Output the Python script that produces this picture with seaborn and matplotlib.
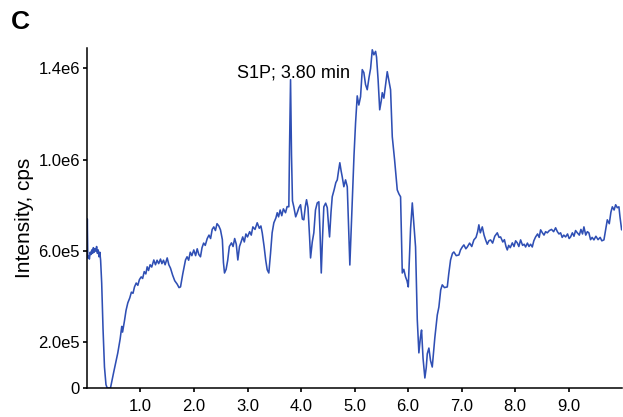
import numpy as np
import pandas as pd
import matplotlib
matplotlib.use("Agg")
import matplotlib.pyplot as plt
import seaborn as sns

# Retention time (min)
time_min = [
    0.000, 0.006, 0.016, 0.030, 0.045, 0.060, 0.075, 0.090, 0.105, 0.120, 0.135, 0.150, 0.165, 0.180, 0.195,
    0.210, 0.225, 0.240, 0.255, 0.275, 0.300, 0.327, 0.355, 0.378, 0.439, 0.500, 0.576, 0.620, 0.650, 0.665,
    0.701, 0.730, 0.763, 0.800, 0.830, 0.860, 0.888, 0.920, 0.950, 0.980, 1.013, 1.040, 1.070, 1.100, 1.125,
    1.150, 1.180, 1.210, 1.249, 1.280, 1.310, 1.340, 1.374, 1.400, 1.430, 1.460, 1.499, 1.530, 1.561, 1.600,
    1.640, 1.686, 1.720, 1.748, 1.790, 1.841, 1.870, 1.900, 1.930, 1.960, 1.996, 2.030, 2.060, 2.090, 2.121,
    2.150, 2.180, 2.210, 2.247, 2.280, 2.310, 2.340, 2.370, 2.400, 2.430, 2.464, 2.495, 2.530, 2.550, 2.570,
    2.600, 2.630, 2.660, 2.700, 2.730, 2.760, 2.790, 2.819, 2.850, 2.880, 2.910, 2.940, 2.970, 3.000, 3.040,
    3.070, 3.100, 3.140, 3.181, 3.220, 3.250, 3.275, 3.310, 3.340, 3.368, 3.398, 3.430, 3.460, 3.492, 3.530,
    3.555, 3.580, 3.610, 3.640, 3.670, 3.710, 3.740, 3.772, 3.785, 3.804, 3.822, 3.840, 3.865, 3.900, 3.929,
    3.960, 3.991, 4.025, 4.052, 4.080, 4.103, 4.130, 4.160, 4.178, 4.210, 4.239, 4.270, 4.303, 4.333, 4.355,
    4.378, 4.400, 4.426, 4.460, 4.490, 4.515, 4.533, 4.560, 4.583, 4.620, 4.650, 4.677, 4.700, 4.725, 4.750,
    4.770, 4.800, 4.832, 4.864, 4.890, 4.912, 4.935, 4.957, 4.990, 5.019, 5.050, 5.080, 5.112, 5.144, 5.174,
    5.205, 5.237, 5.270, 5.300, 5.331, 5.361, 5.393, 5.411, 5.440, 5.470, 5.500, 5.518, 5.548, 5.580, 5.611,
    5.640, 5.673, 5.705, 5.748, 5.798, 5.830, 5.860, 5.892, 5.920, 5.953, 5.980, 6.004, 6.047, 6.079, 6.108,
    6.140, 6.172, 6.202, 6.230, 6.252, 6.280, 6.314, 6.340, 6.359, 6.389, 6.420, 6.452, 6.500, 6.546, 6.576,
    6.610, 6.639, 6.680, 6.733, 6.760, 6.794, 6.830, 6.856, 6.900, 6.950, 6.980, 7.013, 7.043, 7.080, 7.107,
    7.150, 7.190, 7.230, 7.270, 7.300, 7.323, 7.350, 7.387, 7.420, 7.449, 7.480, 7.510, 7.542, 7.580, 7.620,
    7.667, 7.700, 7.729, 7.770, 7.800, 7.830, 7.854, 7.880, 7.910, 7.948, 7.980, 8.010, 8.041, 8.070, 8.103,
    8.140, 8.170, 8.196, 8.230, 8.260, 8.290, 8.321, 8.350, 8.383, 8.420, 8.450, 8.477, 8.510, 8.540, 8.570,
    8.602, 8.640, 8.680, 8.720, 8.757, 8.790, 8.820, 8.850, 8.880, 8.910, 8.944, 8.980, 9.010, 9.037, 9.070,
    9.100, 9.130, 9.163, 9.200, 9.230, 9.260, 9.286, 9.320, 9.350, 9.379, 9.410, 9.440, 9.473, 9.510, 9.550,
    9.590, 9.620, 9.660, 9.690, 9.723, 9.760, 9.790, 9.817, 9.850, 9.879, 9.910, 9.940, 9.960, 9.991,
]

# Intensity in units of 1e5 cps
intensity_e5 = [
    5.85, 7.41, 5.70, 5.80, 5.65, 5.95, 5.85, 6.05, 5.90, 6.15, 5.95, 6.10, 6.00, 6.20, 5.90,
    6.05, 5.75, 5.95, 5.60, 4.60, 2.60, 0.92, 0.15, 0.00, 0.00, 0.70, 1.54, 2.15, 2.70, 2.45,
    2.95, 3.40, 3.73, 3.95, 4.20, 4.15, 4.43, 4.60, 4.50, 4.75, 4.87, 4.80, 5.10, 5.00, 5.31,
    5.15, 5.40, 5.30, 5.61, 5.40, 5.60, 5.45, 5.65, 5.45, 5.60, 5.40, 5.70, 5.40, 5.25, 4.95,
    4.70, 4.55, 4.40, 4.43, 5.00, 5.61, 5.75, 5.60, 5.95, 5.80, 6.05, 5.80, 6.10, 5.85, 5.75,
    6.15, 6.35, 6.25, 6.55, 6.70, 6.55, 6.95, 7.06, 6.90, 7.20, 7.10, 6.93, 6.50, 5.50, 5.04,
    5.20, 5.60, 6.20, 6.36, 6.20, 6.55, 6.30, 5.61, 6.20, 6.40, 6.62, 6.40, 6.75, 6.62, 6.85,
    6.70, 7.06, 6.95, 7.24, 7.00, 7.10, 6.80, 6.20, 5.60, 5.18, 5.04, 5.90, 6.80, 7.24, 7.45,
    7.68, 7.50, 7.80, 7.55, 7.85, 7.68, 7.95, 7.94, 10.50, 13.51, 10.20, 8.20, 7.94, 7.50, 7.68,
    7.90, 8.03, 7.40, 7.37, 7.95, 8.25, 7.90, 6.60, 5.70, 6.40, 6.80, 7.80, 8.11, 8.16, 6.80,
    5.04, 6.50, 7.94, 8.10, 7.90, 7.10, 6.62, 7.70, 8.38, 8.70, 9.00, 9.12, 9.50, 9.87, 9.50,
    9.25, 8.82, 9.12, 8.82, 7.00, 5.39, 6.80, 8.25, 10.20, 11.62, 12.80, 12.40, 12.76, 13.95, 13.82,
    13.30, 13.07, 13.60, 14.00, 14.82, 14.60, 14.75, 14.50, 13.51, 12.19, 12.60, 12.94, 12.70, 13.30, 13.86,
    13.50, 13.07, 11.01, 10.00, 8.68, 8.50, 8.38, 5.04, 5.20, 4.87, 4.70, 4.43, 7.00, 8.11, 7.20,
    6.18, 3.00, 1.54, 2.20, 2.54, 1.30, 0.44, 0.90, 1.50, 1.75, 1.20, 0.92, 2.20, 3.20, 3.55,
    4.30, 4.52, 4.40, 4.43, 5.00, 5.61, 5.90, 5.96, 5.80, 5.83, 6.05, 6.18, 6.27, 6.10, 6.18,
    6.35, 6.20, 6.49, 6.60, 6.85, 7.15, 6.80, 7.06, 6.70, 6.49, 6.30, 6.45, 6.49, 6.35, 6.65,
    6.80, 6.60, 6.62, 6.40, 6.50, 6.20, 6.05, 6.25, 6.15, 6.36, 6.20, 6.45, 6.36, 6.20, 6.49,
    6.25, 6.30, 6.18, 6.35, 6.20, 6.30, 6.18, 6.45, 6.62, 6.75, 6.60, 6.93, 6.80, 6.70, 6.85,
    6.80, 6.90, 6.95, 6.85, 7.02, 6.85, 6.75, 6.80, 6.60, 6.70, 6.62, 6.75, 6.55, 6.62, 6.80,
    6.65, 6.90, 6.80, 6.70, 6.95, 6.75, 7.06, 6.70, 6.85, 6.80, 6.50, 6.60, 6.49, 6.65, 6.50,
    6.60, 6.45, 6.49, 6.90, 7.37, 7.20, 7.70, 7.94, 7.80, 8.03, 7.90, 7.94, 7.50, 6.93,
]

x_ticks = [1.0, 2.0, 3.0, 4.0, 5.0, 6.0, 7.0, 8.0, 9.0]
x_tick_labels = ["1.0", "2.0", "3.0", "4.0", "5.0", "6.0", "7.0", "8.0", "9.0"]
y_ticks = [0, 2.0e5, 6.0e5, 1.0e6, 1.4e6]
y_tick_labels = ["0", "2.0e5", "6.0e5", "1.0e6", "1.4e6"]

peak_label = "S1P; 3.80 min"
peak_time = 3.80

df = pd.DataFrame({"time": time_min, "intensity": np.array(intensity_e5) * 1e5})

sns.set_style("ticks")
plt.rcParams["font.family"] = ["Liberation Sans", "DejaVu Sans"]
plt.rcParams["text.color"] = "black"
plt.rcParams["xtick.color"] = "black"
plt.rcParams["ytick.color"] = "black"
plt.rcParams["axes.labelcolor"] = "black"

fig = plt.figure(figsize=(6.23, 4.17), dpi=100)
ax = fig.add_axes([0.1396, 0.0695, 0.8590, 0.8155])

sns.lineplot(data=df, x="time", y="intensity", ax=ax, color="#2f4fb4",
             linewidth=1.15, sort=False, estimator=None)

ax.set_xlim(0, 10)
ax.set_ylim(0, 1.49e6)
ax.set_xticks(x_ticks)
ax.set_xticklabels(x_tick_labels, fontsize=12)
ax.set_yticks(y_ticks)
ax.set_yticklabels(y_tick_labels, fontsize=12)
ax.tick_params(axis="both", length=3, width=1.2, colors="black")
ax.tick_params(axis="x", pad=5)
ax.tick_params(axis="y", pad=2)
ax.set_xlabel("")
ax.set_ylabel("Intensity, cps", fontsize=15, labelpad=3, color="black")
sns.despine(ax=ax)
for s in ["left", "bottom"]:
    ax.spines[s].set_linewidth(1.1)
    ax.spines[s].set_color("black")

ax.text(peak_time - 0.99, 1.36e6, peak_label, fontsize=13, ha="left", va="baseline", color="black")
fig.text(0.018, 0.975, "C", fontsize=19, fontweight="bold", ha="left", va="top", color="black")

fig.savefig("out.png", dpi=100)
